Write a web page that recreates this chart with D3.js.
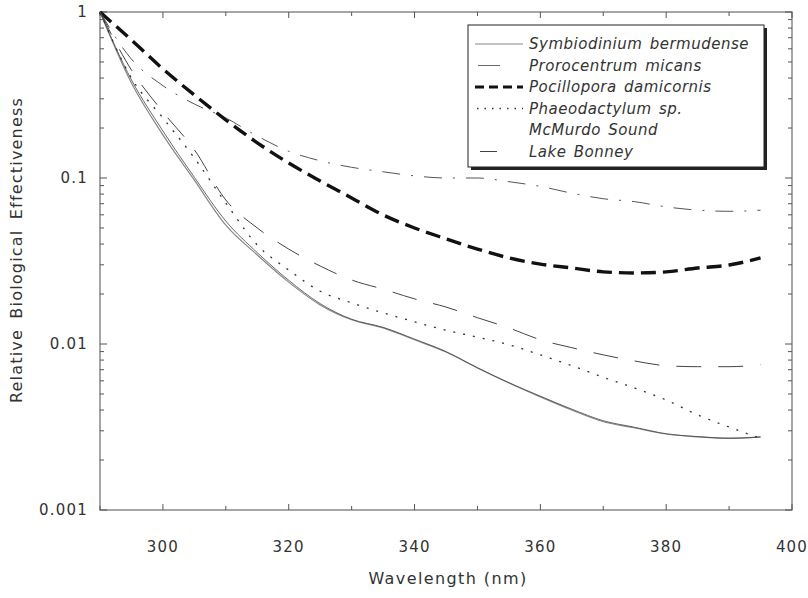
<!DOCTYPE html>
<html>
<head>
<meta charset="utf-8">
<script src="https://cdn.jsdelivr.net/npm/d3@7"></script>
<style>
  body { margin: 0; background: #fff; }
  text { font-family: "DejaVu Sans", Verdana, sans-serif; fill: #333; }
</style>
</head>
<body>
<svg id="chart" width="808" height="598"></svg>
<script>
  // wavelengths (nm) sampled every 5 nm
  var wavelength = [290,295,300,305,310,315,320,325,330,335,340,345,350,355,360,365,370,375,380,385,390,395];

  var symbiodinium = [1,0.373,0.182,0.097,0.052,0.0344,0.0236,0.0172,0.0140,0.0125,0.0106,0.00895,0.00717,0.00582,0.0048,0.0040,0.0034,0.00312,0.00287,0.00276,0.0027,0.00276];
  var prorocentrum = [1,0.39,0.192,0.101,0.055,0.0355,0.0242,0.0175,0.0141,0.0126,0.0107,0.0090,0.0072,0.00585,0.00485,0.00405,0.00345,0.00315,0.00288,0.00277,0.00271,0.00275];
  var pocillopora  = [1,0.678,0.454,0.316,0.224,0.163,0.123,0.096,0.0758,0.0599,0.050,0.043,0.0373,0.033,0.0303,0.0287,0.0272,0.0268,0.0272,0.0287,0.0299,0.033];
  var phaeodactylum = [1,0.40,0.23,0.132,0.0707,0.0395,0.0279,0.0208,0.0177,0.0154,0.0136,0.0121,0.0110,0.0099,0.0086,0.0074,0.0063,0.00543,0.0046,0.00374,0.00316,0.0027];
  var mcmurdo = [1,0.52,0.36,0.279,0.23,0.179,0.145,0.127,0.116,0.109,0.103,0.1,0.1,0.095,0.089,0.081,0.075,0.072,0.067,0.064,0.063,0.064];
  var bonney = [1,0.447,0.25,0.148,0.0737,0.050,0.0373,0.0295,0.0243,0.0214,0.0187,0.0167,0.0144,0.0125,0.0106,0.0095,0.0086,0.0079,0.0074,0.0073,0.0073,0.0075];

  var seriesNames = ["Symbiodinium  bermudense","Prorocentrum  micans","Pocillopora  damicornis","Phaeodactylum  sp.","McMurdo  Sound","Lake  Bonney"];
  var xTicks = [300,320,340,360,380,400];
  var yTicks = [0.001,0.01,0.1,1];

  var styles = [
    {stroke:"#888", width:1.2, dash:null, sample:[475,523]},
    {stroke:"#444", width:0.8, dash:null, sample:[478,500]},
    {stroke:"#111", width:3.4, dash:"15,7", sample:[475,523], sdash:"9,5"},
    {stroke:"#333", width:1.3, dash:"2,8", sample:[477,523], sdash:"1.5,6"},
    {stroke:"#555", width:1, dash:"18,11,2,11", sample:null},
    {stroke:"#444", width:1, dash:"25,17", sample:[480,497]}
  ];
  var values = [symbiodinium, prorocentrum, pocillopora, phaeodactylum, mcmurdo, bonney];

  var svg = d3.select("#chart");
  var x = d3.scaleLinear().domain([290,400]).range([100,792]);
  var y = d3.scaleLog().domain([0.001,1]).range([510,12]);

  // frame
  svg.append("rect")
    .attr("x", 100).attr("y", 12).attr("width", 692).attr("height", 498)
    .attr("fill", "none").attr("stroke", "#777").attr("stroke-width", 1.3);

  // x ticks (top and bottom, inside)
  var xMinor = d3.range(290, 401, 10);
  xMinor.forEach(function (t) {
    var len = (t % 20 == 0) ? 6 : 4;
    svg.append("line").attr("x1", x(t)).attr("x2", x(t)).attr("y1", 510).attr("y2", 510 - len)
      .attr("stroke", "#555").attr("stroke-width", 1);
    svg.append("line").attr("x1", x(t)).attr("x2", x(t)).attr("y1", 12).attr("y2", 12 + len)
      .attr("stroke", "#555").attr("stroke-width", 1);
  });
  xTicks.forEach(function (t) {
    svg.append("text").attr("x", x(t)).attr("y", 552).attr("text-anchor", "middle")
      .attr("font-size", 15).attr("letter-spacing", 1.2).text(t);
  });

  // y ticks (log, inside, both sides)
  var yAll = y.ticks();
  yAll.forEach(function (t) {
    var major = yTicks.indexOf(t) >= 0;
    var len = major ? 7 : 4;
    svg.append("line").attr("x1", 100).attr("x2", 100 + len).attr("y1", y(t)).attr("y2", y(t))
      .attr("stroke", "#555").attr("stroke-width", 1);
    svg.append("line").attr("x1", 792).attr("x2", 792 - len).attr("y1", y(t)).attr("y2", y(t))
      .attr("stroke", "#555").attr("stroke-width", 1);
  });
  yTicks.forEach(function (t) {
    svg.append("text").attr("x", 88).attr("y", y(t) + 5).attr("text-anchor", "end")
      .attr("font-size", 15).attr("letter-spacing", 1.2).text(String(t));
  });

  // axis titles
  svg.append("text").attr("x", 448).attr("y", 584).attr("text-anchor", "middle")
    .attr("font-size", 16).attr("letter-spacing", 1.4).text("Wavelength (nm)");
  svg.append("text").attr("transform", "translate(22,250) rotate(-90)").attr("text-anchor", "middle")
    .attr("font-size", 16).attr("letter-spacing", 1.2).attr("word-spacing", 4)
    .text("Relative  Biological  Effectiveness");

  // curves
  var line = d3.line()
    .x(function (d) { return x(d[0]); })
    .y(function (d) { return y(d[1]); })
    .curve(d3.curveMonotoneX);

  values.forEach(function (v, i) {
    var s = styles[i];
    svg.append("path")
      .datum(wavelength.map(function (w, j) { return [w, v[j]]; }))
      .attr("d", line)
      .attr("fill", "none")
      .attr("stroke", s.stroke)
      .attr("stroke-width", s.width)
      .attr("stroke-dasharray", s.dash);
  });

  // legend
  var lg = svg.append("g");
  lg.append("rect").attr("x", 471).attr("y", 28).attr("width", 296).attr("height", 142).attr("fill", "#222");
  lg.append("rect").attr("x", 468).attr("y", 25).attr("width", 296).attr("height", 142)
    .attr("fill", "#fff").attr("stroke", "#222").attr("stroke-width", 1);
  seriesNames.forEach(function (n, i) {
    var yy = 44 + i * 21.5;
    var s = styles[i];
    if (s.sample) {
      lg.append("line").attr("x1", s.sample[0]).attr("x2", s.sample[1]).attr("y1", yy).attr("y2", yy)
        .attr("stroke", s.stroke).attr("stroke-width", Math.min(s.width, 3))
        .attr("stroke-dasharray", s.sdash || null);
    }
    lg.append("text").attr("x", 529).attr("y", yy + 5).attr("font-size", 15)
      .attr("font-style", "italic").attr("fill", "#222").attr("letter-spacing", 0.5)
      .attr("word-spacing", 2).text(n);
  });
</script>
</body>
</html>
